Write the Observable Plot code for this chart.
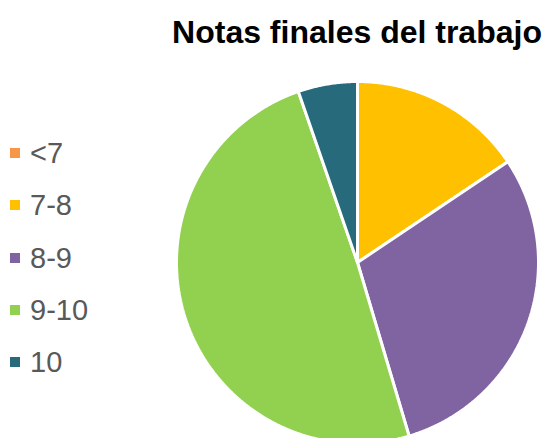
<!DOCTYPE html>
<html><head><meta charset="utf-8">
<script src="https://cdn.jsdelivr.net/npm/d3@7"></script>
<script src="https://cdn.jsdelivr.net/npm/@observablehq/plot@0.6"></script>
<style>
body{margin:0;background:#fff;}
#wrap{position:relative;width:544px;height:438px;overflow:hidden;font-family:Arial,"Liberation Sans",sans-serif;}
#wrap svg{position:absolute;left:0;top:0;}
#title{position:absolute;left:157px;width:400px;top:16px;text-align:center;font-weight:bold;font-size:32px;line-height:32px;color:#000;white-space:nowrap;}
.lg{position:absolute;left:10px;height:29px;font-size:29px;line-height:29px;color:#595959;white-space:nowrap;}
.lg .sw{position:absolute;left:0;top:9px;width:10px;height:10px;}
.lg .tx{position:absolute;left:20px;top:0;}
</style></head>
<body><div id="wrap"></div>
<script>
const categories = ["<7", "7-8", "8-9", "9-10", "10"];
const values = [0, 15.6, 29.8, 49.3, 5.3];
const colors = ["#F79646", "#FFC000", "#8064A2", "#92D050", "#276A7C"];
const title = "Notas finales del trabajo";

const data = categories.map((c, i) => ({category: c, value: values[i]}));
const arcs = d3.pie().sort(null).value(d => d.value)(data);
const pts = [];
for (const a of arcs) {
  const span = a.endAngle - a.startAngle;
  if (span <= 0) continue;
  const c = a.data.category;
  pts.push({category: c, x: 0, y: 0});
  const n = Math.max(4, Math.ceil(span / 0.005));
  for (let k = 0; k <= n; k++) {
    const t = a.startAngle + span * k / n;
    pts.push({category: c, x: Math.sin(t), y: Math.cos(t)});
  }
  pts.push({category: c, x: 0, y: 0});
}

const cx = 357, cy = 262, r = 181;
const chart = Plot.plot({
  width: 544, height: 438, margin: 0,
  x: {domain: [-1, 1], range: [cx - r, cx + r], axis: null},
  y: {domain: [-1, 1], range: [cy + r, cy - r], axis: null},
  color: {domain: categories, range: colors},
  marks: [
    Plot.line(pts, {x: "x", y: "y", z: "category", fill: "category", stroke: "white", strokeWidth: 3, strokeLinejoin: "miter"})
  ]
});
const wrap = document.getElementById("wrap");
wrap.appendChild(chart);
const t = document.createElement("div");
t.id = "title"; t.textContent = title;
wrap.appendChild(t);
categories.forEach((c, i) => {
  const d = document.createElement("div");
  d.className = "lg";
  d.style.top = (139 + i * 52.25) + "px";
  const sw = document.createElement("span"); sw.className = "sw"; sw.style.background = colors[i];
  const tx = document.createElement("span"); tx.className = "tx"; tx.textContent = c;
  d.appendChild(sw); d.appendChild(tx);
  wrap.appendChild(d);
});
</script>
</body></html>
